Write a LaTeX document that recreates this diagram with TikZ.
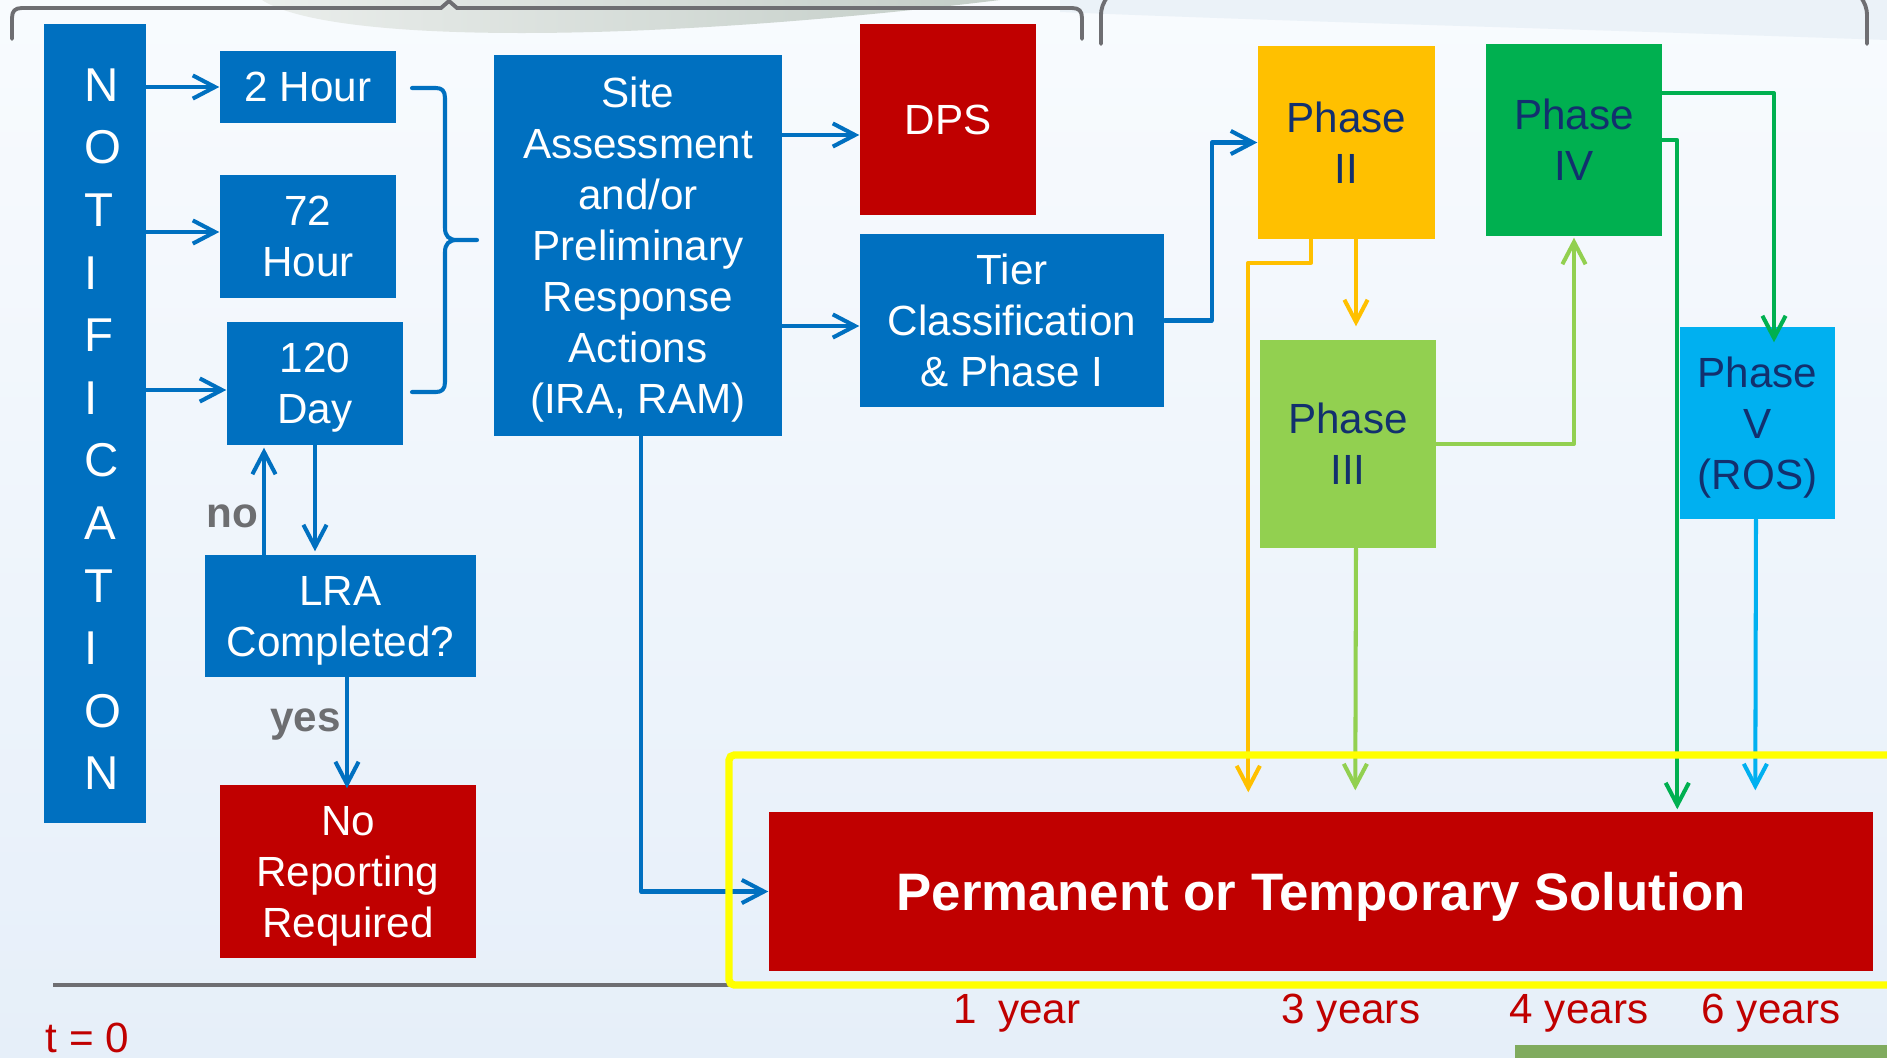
\documentclass[tikz,border=0pt]{standalone}
\usepackage{fontspec}
\setmainfont{Liberation Sans}
\usetikzlibrary{arrows.meta,calc}

\definecolor{boxblue}{HTML}{0070C0}
\definecolor{boxred}{HTML}{C00000}
\definecolor{phaseII}{HTML}{FFC000}
\definecolor{phaseIII}{HTML}{92D050}
\definecolor{phaseIV}{HTML}{00B050}
\definecolor{phaseV}{HTML}{00B0F0}
\definecolor{navytext}{HTML}{12306E}
\definecolor{framegray}{HTML}{6E6E72}
\definecolor{labelgray}{HTML}{6D6E71}
\definecolor{frameyellow}{HTML}{FFFF00}
\definecolor{bgtop}{HTML}{F8FBFE}
\definecolor{bgbottom}{HTML}{E6EFF9}
\definecolor{swoosh}{HTML}{C3CDC7}
\definecolor{band}{HTML}{E3ECF4}
\definecolor{footgreen}{HTML}{80AB5E}

\tikzset{
  box/.style={inner sep=0pt, align=center, text depth=0pt, font=\fontsize{12}{14.5}\selectfont},
  size/.style 2 args={minimum width=#1*0.01cm, minimum height=#2*0.01cm},
  bluebox/.style={box, fill=boxblue, text=white},
  redbox/.style={box, fill=boxred, text=white},
  phasebox/.style={box, fill=#1, text=navytext},
  link/.style={line width=1.15pt, line cap=round, line join=round,
    -{Straight Barb[length=6.3pt,width=6.6pt]}},
  bracketline/.style={draw=framegray, line width=1.1pt, line cap=round},
  yearlabel/.style={anchor=base, inner sep=0pt, text=boxred, font=\fontsize{12}{14}\selectfont},
  answer/.style={anchor=base, inner sep=0pt, text=labelgray, font=\bfseries\fontsize{12}{14}\selectfont},
}

\begin{document}
\begin{tikzpicture}[x=0.01cm, y=-0.01cm]
\useasboundingbox (0,0) rectangle (1887,1057);
\clip (0,0) rectangle (1887,1057);

% page background
\shade[top color=bgtop, bottom color=bgbottom] (0,0) rectangle (1887,1057);
\shade[left color=swoosh!35, right color=swoosh] (262,0) .. controls (330,44) and (640,44) .. (1000,0) -- cycle;
\fill[band, opacity=0.6] (1060,0) -- (1887,0) -- (1887,40) .. controls (1550,28) and (1300,22) .. (1060,12) -- cycle;

% grey brackets along the top edge
\draw[bracketline] (12,39) -- (12,18) .. controls (12,11) and (15,8) .. (22,8) -- (441,8) -- (449,1) -- (457,8) -- (1072,8)
  .. controls (1079,8) and (1082,11) .. (1082,18) -- (1082,39);
\draw[bracketline] (1101,44) -- (1101,16) .. controls (1101,8) and (1103,3) .. (1108,-4);
\draw[bracketline] (1867,44) -- (1867,16) .. controls (1867,8) and (1865,3) .. (1860,-4);

% time axis and footer strip
\draw[draw=framegray, line width=1.4pt] (53,985) -- (729,985);
\fill[footgreen] (1515,1045) rectangle (1892,1062);

% boxes
\node[bluebox, size={102}{799}] (notif) at (95,423.5) {};
\node[anchor=north west, inner sep=0pt, align=left, text=white,
      font=\fontsize{13.5}{17.8}\selectfont] (notiftext) at (84,68)
      {N\\O\\T\\I\\F\\I\\C\\A\\T\\I\\O\\N};
\node[bluebox, size={176}{72}] (h2) at (308,87) {2 Hour};
\node[bluebox, size={176}{123}] (h72) at (308,236.5) {72\\Hour};
\node[bluebox, size={176}{123}] (d120) at (315,383.5) {120\\Day};
\node[bluebox, size={271}{122}] (lra) at (340.5,616) {LRA\\Completed?};
\node[redbox, size={256}{173}] (norep) at (348,871.5) {No\\Reporting\\Required};
\node[bluebox, size={288}{381}] (site) at (638,245.5) {Site\\Assessment\\and/or\\Preliminary\\Response\\Actions\\(IRA, RAM)};
\node[redbox, size={176}{191}] (dps) at (948,119.5) {DPS};
\node[bluebox, size={304}{173}] (tier) at (1012,320.5) {Tier\\Classification\\\& Phase I};
\node[phasebox=phaseII, size={177}{193}] (ph2) at (1346.5,142.5) {Phase\\II};
\node[phasebox=phaseIV, size={176}{192}] (ph4) at (1574,140) {Phase\\IV};
\node[phasebox=phaseIII, size={176}{208}] (ph3) at (1348,444) {Phase\\III};
\node[phasebox=phaseV, size={155}{192}] (ph5) at (1757.5,423) {Phase\\V\\(ROS)};
\node[redbox, size={1104}{159}, font=\bfseries\fontsize{15}{18}\selectfont] (perm) at (1321,891.5) {Permanent or Temporary Solution};

% brace gathering the three reporting deadlines
\draw[draw=boxblue, line width=1.15pt, line cap=round, line join=round]
  (412,88) -- (436,88) .. controls (442,88) and (445,91) .. (445,98) -- (445,228)
  .. controls (445,236) and (449,240) .. (457,240) -- (477,240)
  (457,240) .. controls (449,240) and (445,244) .. (445,252) -- (445,382)
  .. controls (445,389) and (442,392) .. (436,392) -- (412,392);

% notification arrows
\draw[link, draw=boxblue] (notif.east |- h2.west) -- (h2.west);
\draw[link, draw=boxblue] ($(notif.east |- h72.west)+(0,-4.5)$) -- ($(h72.west)+(0,-4.5)$);
\draw[link, draw=boxblue] ($(notif.east |- d120.west)+(0,6.5)$) -- ($(d120.west)+(0,6.5)$);

% LRA loop
\draw[link, draw=boxblue] (d120.south) -- ($(d120.south |- lra.north)+(0,-3)$);
\draw[link, draw=boxblue] ($(lra.north)+(-76.5,0)$) coordinate (noup) -- ($(noup |- d120.south)+(0,2)$);
\draw[link, draw=boxblue] ($(lra.south)+(6.5,0)$) coordinate (yesdn) -- ($(yesdn |- norep.north)+(0,4)$);

% site assessment outputs
\draw[link, draw=boxblue] ($(site.east)+(0,-110.5)$) coordinate (sd) -- (sd -| dps.west);
\draw[link, draw=boxblue] ($(site.east)+(0,80.5)$) coordinate (st) -- (st -| tier.west);
\draw[link, draw=boxblue] ($(site.south)+(3,0)$) |- (perm.west);
\draw[link, draw=boxblue] (tier.east) -- ++(47,0) |- (ph2.west);

% phase flow
\draw[link, draw=phaseII] ($(ph2.south)+(9.5,0)$) coordinate (p23) -- ($(p23 |- ph3.north)+(0,-13)$);
\draw[link, draw=phaseII] ($(ph2.south)+(-35.5,0)$) -- ++(0,23) -| ($(perm.north west)+(480,-19)$);
\draw[link, draw=phaseIII] (ph3.east) -| ($(ph4.south)+(0,1)$);
\draw[link, draw=phaseIII] ($(ph3.south)+(8,0)$) -- ($(perm.north west)+(587,-21)$);
\draw[link, draw=phaseIV] ($(ph4.east)+(0,-47)$) -| ($(ph5.north)+(16.5,16)$);
\draw[link, draw=phaseIV] (ph4.east) -| ($(perm.north west)+(909,-2)$);
\draw[link, draw=phaseV] ($(ph5.south)+(-1.5,0)$) -- ($(perm.north west)+(987,-21)$);

% frame round the solution
\draw[draw=frameyellow, line width=2.1pt, rounded corners=1.5pt] (729,755) rectangle (1900,985);

% answer and time labels
\node[answer] (nolabel) at (232.5,527) {no};
\node[answer] (yeslabel) at (305.5,731) {yes};
\node[anchor=base west, inner sep=0pt, text=boxred, font=\fontsize{12}{14}\selectfont] (tzero) at (45,1052) {t = 0};
\node[yearlabel] (y1) at (1017,1023) {1\hspace{0.5em}year};
\node[yearlabel] (y3) at (1351,1023) {3 years};
\node[yearlabel] (y4) at (1579,1023) {4 years};
\node[yearlabel] (y6) at (1771,1023) {6 years};
\end{tikzpicture}
\end{document}
